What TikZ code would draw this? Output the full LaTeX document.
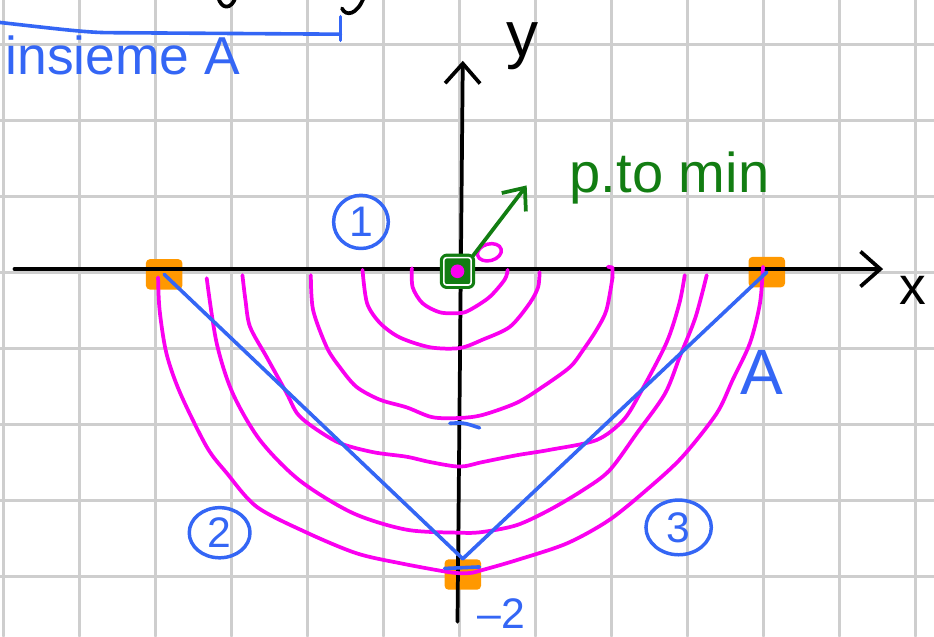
\documentclass[tikz,border=0pt]{standalone}
\usepackage{fontspec}
\setmainfont{Liberation Sans}
\usepackage{xcolor}
\usetikzlibrary{arrows.meta}
\usetikzlibrary{shapes.geometric}
\definecolor{penblue}{RGB}{52,102,245}
\definecolor{penmag}{RGB}{250,0,240}
\definecolor{pengreen}{RGB}{18,125,18}
\definecolor{penorange}{RGB}{255,152,0}
\definecolor{gridgray}{RGB}{206,206,206}

\begin{document}
\begin{tikzpicture}[scale=1,line cap=round,line join=round,
  griglia/.style={gridgray,line width=1.1pt},
  assi/.style={black,line width=1.4pt},
  barba/.style={-{Straight Barb[length=2.6mm,width=4.6mm,line width=1.4pt]}},
  livello/.style={penmag,line width=1.4pt},
  vincolo/.style={penblue,line width=1.35pt},
  estremo/.style={fill=penorange,rounded corners=1.5pt,minimum width=0.48cm,minimum height=0.4cm,inner sep=0pt},
  cerchio/.style={draw=penblue,ellipse,line width=1.3pt,text=penblue,font=\fontsize{16}{18}\selectfont,inner sep=0pt}]
\useasboundingbox (-6.05,-4.79) rectangle (6.24,3.58);
\clip (-6.05,-4.79) rectangle (6.24,3.58);
\foreach \x in {-6,...,6}{
\draw[griglia] (\x,-4.79) -- (\x,3.58);
}
\foreach \y in {-4,...,3}{
\draw[griglia] (-6.05,\y) -- (6.24,\y);
}
\node[estremo] (ptL) at (-3.89,-0.03) {};
\node[estremo] (ptR) at (4.04,0) {};
\node[estremo] (ptB) at (0.04,-3.98) {};
\draw[assi,barba] (-5.86,0.04) -- (5.57,0.04);
\draw[assi,barba] (-0.03,-4.6) -- (0.04,2.78);
\node[font=\fontsize{24}{26}\selectfont] (ylab) at (0.82,2.97) {y};
\node[font=\fontsize{20}{22}\selectfont] (xlab) at (5.96,-0.24) {x};
\draw[assi] (-3.18,3.62) .. controls (-3.14,3.45) and (-3.0,3.45) .. (-2.95,3.62);
\draw[assi] (-1.55,3.47) .. controls (-1.5,3.36) and (-1.35,3.38) .. (-1.26,3.62);
\draw[livello] plot[smooth] coordinates {(-0.63,0.05) (-0.62,-0.2) (-0.49,-0.41) (-0.26,-0.53) (0,-0.54) (0.13,-0.5) (0.39,-0.33) (0.59,-0.1) (0.63,0.03)};
\draw[livello] plot[smooth] coordinates {(-1.28,0.03) (-1.22,-0.41) (-1.05,-0.67) (-0.79,-0.86) (-0.39,-0.99) (0,-1.0) (0.3,-0.89) (0.66,-0.72) (0.92,-0.41) (1.03,-0.2) (1.05,0)};
\draw[livello] (1.95,0.07) -- (2.01,0.06) -- (2.01,-0.07);
\draw[livello] plot[smooth] coordinates {(-1.96,-0.04) (-1.93,-0.5) (-1.75,-0.99) (-1.58,-1.25) (-1.36,-1.51) (-1.05,-1.68) (-0.7,-1.78) (-0.36,-1.91) (0,-1.92) (0.3,-1.88) (0.75,-1.72) (1.09,-1.51) (1.45,-1.25) (1.62,-1.03) (1.8,-0.76) (1.93,-0.5) (2.01,-0.07)};
\draw[livello] plot[smooth] coordinates {(-2.86,-0.04) (-2.82,-0.37) (-2.76,-0.72) (-2.54,-1.12) (-2.28,-1.59) (-2.14,-1.86) (-1.93,-2.04) (-1.58,-2.25) (-1.14,-2.37) (-0.7,-2.43) (-0.39,-2.5) (0,-2.56) (0.3,-2.5) (0.75,-2.41) (1.18,-2.34) (1.8,-2.21) (2.15,-1.95) (2.37,-1.6) (2.72,-0.93) (2.89,-0.41) (2.96,-0.04)};
\draw[livello] plot[smooth] coordinates {(-3.33,-0.08) (-3.2,-0.93) (-2.99,-1.59) (-2.63,-2.21) (-2.11,-2.74) (-1.41,-3.17) (-0.7,-3.39) (0,-3.43) (0.3,-3.42) (0.75,-3.33) (1.18,-3.13) (1.62,-2.87) (1.97,-2.61) (2.33,-2.12) (2.7,-1.6) (2.9,-1.1) (3.1,-0.6) (3.25,-0.04)};
\draw[livello] plot[smooth] coordinates {(-3.97,-0.07) (-3.95,-0.5) (-3.86,-1.07) (-3.68,-1.59) (-3.33,-2.3) (-3.07,-2.64) (-2.67,-3.09) (-2.01,-3.43) (-1.36,-3.7) (-0.79,-3.83) (-0.13,-3.95) (0.13,-3.96) (0.3,-3.92) (0.75,-3.79) (1.41,-3.57) (1.97,-3.26) (2.5,-2.83) (2.93,-2.43) (3.38,-1.86) (3.59,-1.42) (3.82,-0.93) (3.95,-0.41) (3.99,0.07)};
\draw[vincolo] (ptL.center) -- (ptB.north);
\draw[vincolo] (ptR.center) -- (ptB.north);
\draw[vincolo] (-0.2,-3.9) -- (0.26,-3.88);
\draw[vincolo] (-0.13,-1.99) .. controls (0.05,-1.98) .. (0.26,-2.05);
\draw[vincolo] (-6.1,3.29) .. controls (-5.3,3.2) and (-4.9,3.15) .. (-4.6,3.15) -- (-1.57,3.13);
\draw[vincolo] (-1.57,3.36) -- (-1.57,3.05);
\node[text=penblue,font=\fontsize{20}{22}\selectfont,anchor=base west] (lblins) at (-6.1,2.6) {insieme A};
\node[text=penblue,font=\fontsize{24}{27}\selectfont] (lblA) at (3.97,-1.32) {A};
\node[text=penblue,font=\fontsize{16}{18}\selectfont] (lblmdue) at (0.55,-4.5) {–2};
\node[cerchio,minimum width=0.72cm,minimum height=0.7cm] (reg1) at (-1.3,0.66) {1};
\node[cerchio,minimum width=0.8cm,minimum height=0.66cm] (reg2) at (-3.16,-3.43) {2};
\node[cerchio,minimum width=0.86cm,minimum height=0.72cm] (reg3) at (2.88,-3.36) {3};
\node[draw=pengreen,fill=pengreen,double=white,double distance=0.6pt,line width=1.2pt,minimum size=0.36cm,inner sep=0pt,rounded corners=1pt] (pmin) at (-0.03,0.01) {};
\fill[penmag] (pmin.center) circle (0.09);
\node[draw=penmag,ellipse,line width=1.3pt,minimum width=0.32cm,minimum height=0.22cm,rotate=15,inner sep=0pt] (zero) at (0.39,0.26) {};
\node[text=pengreen,font=\fontsize{21}{24}\selectfont] (lblmin) at (2.76,1.24) {p.to min};
\coordinate (frecc) at (0.88,1.14);
\draw[pengreen,line width=1.4pt,-{Straight Barb[length=2.4mm,width=4mm,line width=1.4pt]}] (pmin.north east) -- (frecc);
\end{tikzpicture}
\end{document}
